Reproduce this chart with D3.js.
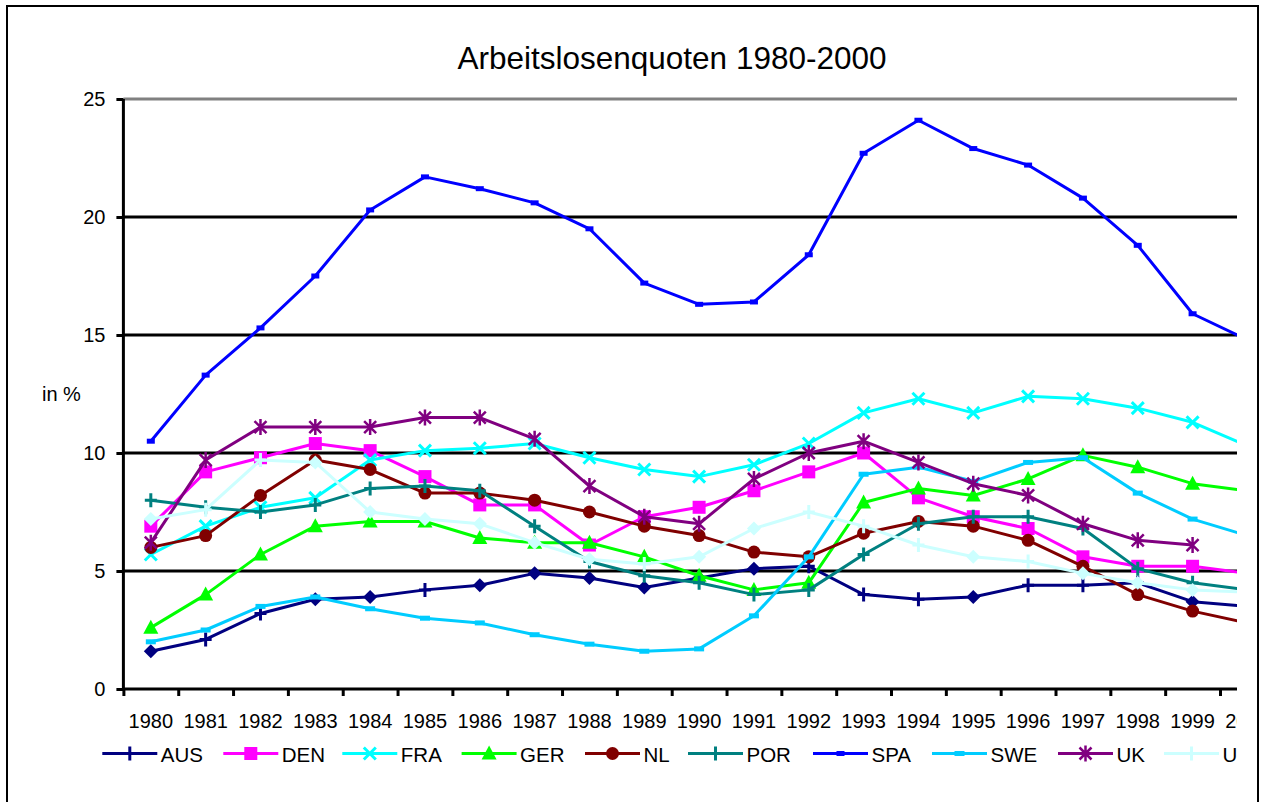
<!DOCTYPE html>
<html>
<head>
<meta charset="utf-8">
<script src="https://cdn.jsdelivr.net/npm/d3@7"></script>
<style>
  body { margin: 0; background: #fff; }
  svg { display: block; font-family: Arial, "Liberation Sans", sans-serif; }
</style>
</head>
<body>
<svg width="1261" height="802"></svg>
<script>
// values
var years = d3.range(1980, 2001);
var yTicks = [0, 5, 10, 15, 20, 25];

var AUS = [1.6, 2.1, 3.2, 3.8, 3.9, 4.2, 4.4, 4.9, 4.7, 4.3, 4.7, 5.1, 5.2, 4.0, 3.8, 3.9, 4.4, 4.4, 4.5, 3.7, 3.5];
var DEN = [6.9, 9.2, 9.8, 10.4, 10.1, 9.0, 7.8, 7.8, 6.1, 7.3, 7.7, 8.4, 9.2, 10.0, 8.1, 7.3, 6.8, 5.6, 5.2, 5.2, 4.9];
var FRA = [5.7, 6.9, 7.7, 8.1, 9.7, 10.1, 10.2, 10.4, 9.8, 9.3, 9.0, 9.5, 10.4, 11.7, 12.3, 11.7, 12.4, 12.3, 11.9, 11.3, 10.3];
var GER = [2.6, 4.0, 5.7, 6.9, 7.1, 7.1, 6.4, 6.2, 6.2, 5.6, 4.8, 4.2, 4.5, 7.9, 8.5, 8.2, 8.9, 9.9, 9.4, 8.7, 8.4];
var NL  = [6.0, 6.5, 8.2, 9.7, 9.3, 8.3, 8.3, 8.0, 7.5, 6.9, 6.5, 5.8, 5.6, 6.6, 7.1, 6.9, 6.3, 5.2, 4.0, 3.3, 2.8];
var POR = [8.0, 7.7, 7.5, 7.8, 8.5, 8.6, 8.4, 6.9, 5.4, 4.8, 4.5, 4.0, 4.2, 5.7, 7.0, 7.3, 7.3, 6.8, 5.1, 4.5, 4.2];
var SPA = [10.5, 13.3, 15.3, 17.5, 20.3, 21.7, 21.2, 20.6, 19.5, 17.2, 16.3, 16.4, 18.4, 22.7, 24.1, 22.9, 22.2, 20.8, 18.8, 15.9, 14.8];
var SWE = [2.0, 2.5, 3.5, 3.9, 3.4, 3.0, 2.8, 2.3, 1.9, 1.6, 1.7, 3.1, 5.6, 9.1, 9.4, 8.8, 9.6, 9.8, 8.3, 7.2, 6.5];
var UK  = [6.2, 9.7, 11.1, 11.1, 11.1, 11.5, 11.5, 10.6, 8.6, 7.3, 7.0, 8.9, 10.0, 10.5, 9.6, 8.7, 8.2, 7.0, 6.3, 6.1, null];
var USA = [7.2, 7.6, 9.7, 9.6, 7.5, 7.2, 7.0, 6.2, 5.5, 5.3, 5.6, 6.8, 7.5, 6.9, 6.1, 5.6, 5.4, 4.9, 4.5, 4.2, 4.1];

var seriesNames = ['AUS', 'DEN', 'FRA', 'GER', 'NL', 'POR', 'SPA', 'SWE', 'UK', 'USA'];
var seriesValues = [AUS, DEN, FRA, GER, NL, POR, SPA, SWE, UK, USA];

// styles
var seriesColors = ['#000080', '#ff00ff', '#00ffff', '#00ff00', '#800000', '#008080', '#0000ff', '#00ccff', '#800080', '#ccffff'];
var seriesMarkers = ['plus', 'square', 'x', 'triangle', 'circle', 'plus', 'smallrect', 'rect', 'asterisk', 'plus'];
// some points of AUS and USA are drawn as diamonds in the original
var diamondYears = {
    AUS: [1980, 1983, 1984, 1986, 1987, 1988, 1989, 1990, 1991, 1995, 1999],
    USA: [1980, 1983, 1984, 1985, 1986, 1987, 1988, 1990, 1991, 1995, 1997, 1998, 1999]
};
// legend entry left edges (layout)
var legendX = [102.3, 223.3, 342.3, 461.6, 585, 688, 813, 932, 1058, 1164];

var svg = d3.select('svg');

var clipRight = 1237;
svg.append('clipPath').attr('id', 'clip')
    .append('rect').attr('x', 0).attr('y', 0).attr('width', clipRight).attr('height', 802);

var g = svg.append('g').attr('clip-path', 'url(#clip)');

var left = 123.4, step = 54.83;
var xBand = d3.scaleBand().domain(years).range([left, left + step * years.length]).padding(0);
var xCenter = d => xBand(d) + xBand.bandwidth() / 2;
var xEdge = d3.scaleLinear().domain([1979.5, 2000.5]).range([left, left + step * years.length]);

var y = d3.scaleLinear().domain([0, 25]).range([689, 99]);

// gridlines
g.selectAll('.grid')
    .data(yTicks.filter(t => t > 0))
    .enter().append('line')
    .attr('x1', left).attr('x2', clipRight)
    .attr('y1', d => y(d)).attr('y2', d => y(d))
    .attr('stroke', d => d === 25 ? '#808080' : '#000')
    .attr('stroke-width', 3);

// title
g.append('text')
    .attr('x', 672).attr('y', 69)
    .attr('text-anchor', 'middle')
    .style('font-size', '31.5px')
    .text('Arbeitslosenquoten 1980-2000');

g.append('text')
    .attr('x', 42).attr('y', 401)
    .style('font-size', '20px')
    .text('in %');

// y axis
var yAxis = d3.axisLeft(y).tickValues(yTicks).tickSize(7).tickPadding(11);
var ya = g.append('g').attr('transform', 'translate(' + left + ',0)').call(yAxis);
ya.select('.domain').attr('stroke-width', 3).attr('d', 'M0,' + y(0) + 'V' + y(25));
ya.selectAll('.tick line').attr('stroke-width', 3);
ya.selectAll('text').style('font-size', '20px').attr('fill', '#000');

// x axis: ticks at category edges, labels at centres
var xTickAxis = d3.axisBottom(xEdge)
    .tickValues(d3.range(1979.5, 2001, 1))
    .tickSize(7).tickFormat('');
var xa = g.append('g').attr('transform', 'translate(0,' + y(0) + ')').call(xTickAxis);
xa.select('.domain').attr('stroke-width', 3).attr('d', 'M' + left + ',0H' + (left + step * years.length));
xa.selectAll('.tick line').attr('stroke-width', 3);

var xLabelAxis = d3.axisBottom(xBand).tickSize(0).tickPadding(25);
var xl = g.append('g').attr('transform', 'translate(0,' + y(0) + ')').call(xLabelAxis);
xl.select('.domain').remove();
xl.selectAll('text').style('font-size', '20px').attr('fill', '#000');

// marker drawing
function drawMarker(sel, type, color) {
    if (type === 'plus') {
        sel.append('path').attr('d', 'M-6,0H6M0,-7V7')
            .attr('stroke', color).attr('stroke-width', 3).attr('fill', 'none');
    } else if (type === 'diamond') {
        sel.append('path').attr('d', 'M0,-7L7,0L0,7L-7,0Z').attr('fill', color);
    } else if (type === 'square') {
        sel.append('rect').attr('x', -6.5).attr('y', -6.5).attr('width', 13).attr('height', 13).attr('fill', color);
    } else if (type === 'x') {
        sel.append('path').attr('d', 'M-6,-6L6,6M-6,6L6,-6')
            .attr('stroke', color).attr('stroke-width', 3).attr('fill', 'none');
    } else if (type === 'triangle') {
        sel.append('path').attr('d', 'M0,-8L7.5,6L-7.5,6Z').attr('fill', color);
    } else if (type === 'circle') {
        sel.append('circle').attr('r', 6.5).attr('fill', color);
    } else if (type === 'smallrect') {
        sel.append('rect').attr('x', -4).attr('y', -2.5).attr('width', 8).attr('height', 5).attr('fill', color);
    } else if (type === 'rect') {
        sel.append('rect').attr('x', -5).attr('y', -2.5).attr('width', 10).attr('height', 5).attr('fill', color);
    } else if (type === 'asterisk') {
        sel.append('path').attr('d', 'M-6,-6L6,6M-6,6L6,-6M0,-8V8')
            .attr('stroke', color).attr('stroke-width', 2.5).attr('fill', 'none');
    }
}

var line = d3.line()
    .defined(d => d.v !== null)
    .x(d => xCenter(d.year))
    .y(d => y(d.v));

seriesNames.forEach(function(name, i) {
    var pts = years.map((yr, k) => ({ year: yr, v: seriesValues[i][k] }));
    var color = seriesColors[i];
    var sg = g.append('g');
    sg.append('path')
        .datum(pts)
        .attr('d', line)
        .attr('fill', 'none')
        .attr('stroke', color)
        .attr('stroke-width', 3)
        .attr('stroke-linejoin', 'round');
    var dy = diamondYears[name] || [];
    sg.selectAll('.m')
        .data(pts.filter(d => d.v !== null))
        .enter().append('g')
        .attr('transform', d => 'translate(' + xCenter(d.year) + ',' + y(d.v) + ')')
        .each(function(d) {
            var type = dy.indexOf(d.year) >= 0 ? 'diamond' : seriesMarkers[i];
            drawMarker(d3.select(this), type, color);
        });
});

// legend
var ly = 753.5;
seriesNames.forEach(function(name, i) {
    var color = seriesColors[i];
    var lg = g.append('g').attr('transform', 'translate(' + legendX[i] + ',' + ly + ')');
    lg.append('line').attr('x1', 0).attr('x2', 55).attr('y1', 0).attr('y2', 0)
        .attr('stroke', color).attr('stroke-width', 3);
    var mg = lg.append('g').attr('transform', 'translate(27.5,0)');
    drawMarker(mg, seriesMarkers[i], color);
    lg.append('text').attr('x', 58.5).attr('y', 8)
        .style('font-size', '20.5px').text(name);
});

// outer frame
svg.append('rect')
    .attr('x', 7).attr('y', 6).attr('width', 1251).attr('height', 810)
    .attr('fill', 'none').attr('stroke', '#000').attr('stroke-width', 2);
</script>
</body>
</html>
